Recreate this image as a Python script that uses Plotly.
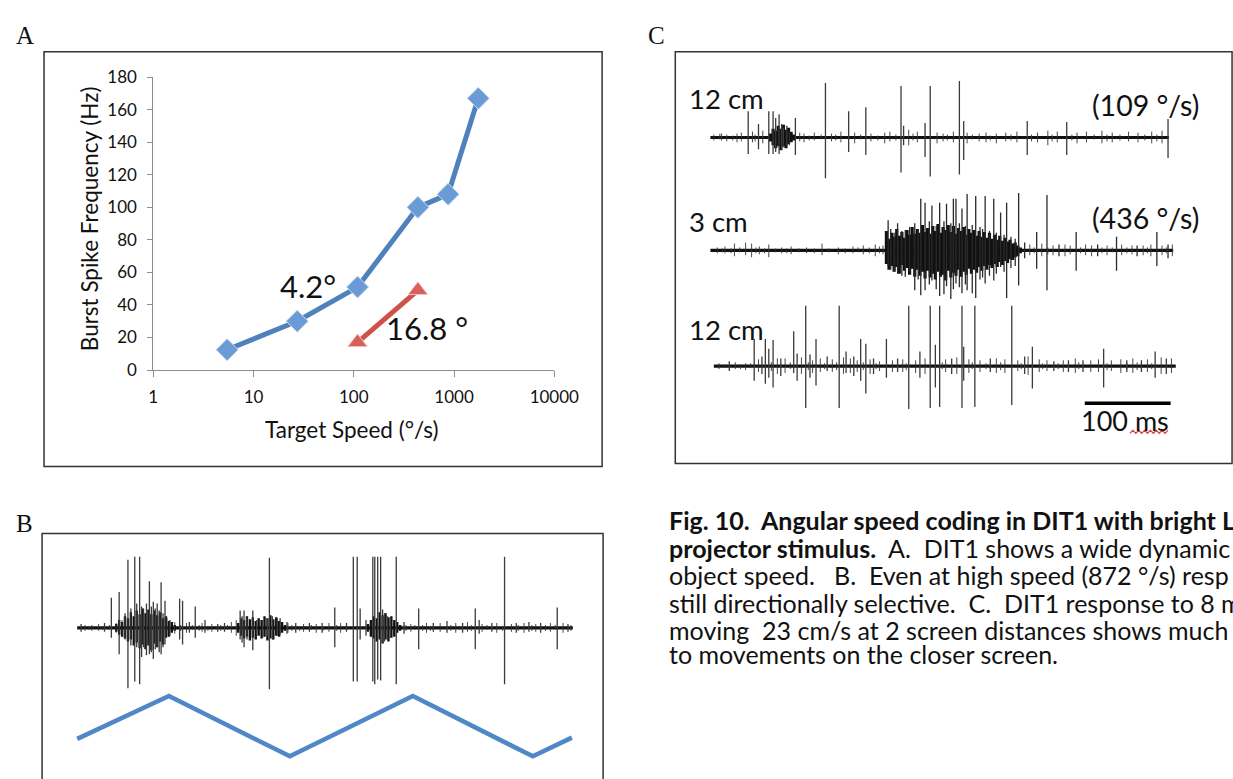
import plotly.graph_objects as go

W, H = 1233, 779
def fx(p): return p / W
def fy(p): return 1 - p / H

# ---------------- Panel A data ----------------
speed_42 = [5.45, 27.25, 109, 436, 872, 1744]
freq_42 = [12.5, 30, 51, 100, 108, 167]
speed_168 = [109, 436]
freq_168 = [17, 49]
x_ticks = [1, 10, 100, 1000, 10000]
x_ticktext = ["1", "10", "100", "1000", "10000"]
y_ticks = [0, 20, 40, 60, 80, 100, 120, 140, 160, 180]

# ---------------- Panel C data (t in ms, up / down amplitude) ----------------
c1_span = [0, 534]
c1_spikes = [[44,27,17],[56,14,12],[68,27,17],[73,27,17],[76,20,15],[80,24,17],[83,14,12],[85,10,10],[89,12,9],
             [99,20,18],[134,56,42],[161,27,15],[181,31,18],[222,53,36],[225,12,8],[250,15,20],[256,53,40],
             [290,58,38],[295,17,23],[369,17,18],[415,16,18],[533,19,21]]
c1_noise = [[4,3,3],[11,4,2],[13,4,3],[19,3,4],[26,2,3],[31,4,5],[36,5,4],[49,6,5],[52,3,4],[61,7,6],[92,6,8],
            [104,5,4],[109,4,5],[115,2,3],[121,5,3],[129,3,2],[141,4,4],[146,3,3],[152,6,5],[168,5,6],[175,3,2],
            [187,4,4],[195,2,3],[203,5,6],[209,6,4],[216,3,3],[231,8,8],[236,4,3],[241,6,5],[264,5,6],[271,4,4],
            [276,3,3],[283,6,5],[299,5,6],[305,3,2],[313,4,4],[321,5,5],[326,2,3],[333,4,6],[344,5,4],[350,3,3],
            [357,6,5],[374,3,4],[381,5,5],[393,7,8],[398,3,4],[404,6,5],[421,3,3],[427,5,6],[438,6,5],[447,3,2],
            [456,7,6],[462,3,4],[468,5,5],[477,3,3],[487,6,4],[498,5,5],[506,3,3],[514,6,6],[520,3,4],[526,7,6]]
c1_burst_t = [70, 73, 76, 79, 82, 85, 88, 91, 94, 97]
c1_burst_up = [4, 9, 7, 12, 9, 13, 8, 10, 6, 3]
c1_burst_dn = [4, 8, 11, 9, 13, 9, 11, 7, 5, 3]

c2_span = [0, 539]
c2_spikes = [[207,31,16],[210,22,20],[214,18,22],[218,28,24],[223,20,26],[227,21,27],[232,24,22],[238,28,41],
             [242,22,30],[245,53,46],[250,49,41],[255,30,35],[258,46,31],[263,25,40],[267,49,47],[272,30,45],
             [275,48,37],[280,28,50],[283,53,40],[286,53,34],[290,28,38],[293,43,44],[297,25,35],[299,58,41],
             [305,26,44],[309,56,49],[314,24,30],[317,22,28],[320,56,34],[325,20,26],[330,53,31],[333,18,24],
             [338,39,17],[342,16,22],[345,49,49],[350,14,18],[355,12,16],[359,59,36],[366,8,8],[380,19,19],
             [392,57,41],[406,6,6],[426,19,21],[451,6,6],[473,14,21],[497,5,6],[520,19,16],[533,6,8]]
c2_noise = [[8,3,3],[14,2,2],[17,4,3],[24,2,3],[28,7,6],[34,3,2],[41,8,5],[48,7,7],[53,3,3],[57,4,4],[63,2,3],
            [68,6,7],[76,2,2],[83,3,3],[89,2,3],[94,4,4],[103,2,2],[112,3,3],[121,2,3],[130,7,5],[138,2,2],
            [149,3,4],[157,2,3],[166,4,3],[172,3,2],[178,5,4],[185,3,3],[192,6,6],[197,4,3],[201,5,4],[372,6,5],
            [377,3,3],[386,7,6],[393,3,4],[399,5,5],[413,6,6],[419,5,4],[431,3,3],[437,6,5],[444,5,6],[456,3,3],
            [462,5,5],[468,3,2],[479,6,5],[485,3,3],[491,5,4],[504,5,5],[509,3,3],[513,6,6],[526,5,5],[531,3,3],
            [538,6,6]]
c2_burst_t = [205,208,211,214,217,220,223,226,229,232,235,238,241,244,247,250,253,256,259,262,265,268,271,274,
              277,280,283,286,289,292,295,298,301,304,307,310,313,316,319,322,325,328,331,334,337,340,343,346,
              349,352,355,358,361]
c2_burst_up = [20,12,18,14,22,15,19,13,21,16,24,17,22,18,26,19,23,17,25,20,27,18,24,21,
               26,19,25,17,23,20,24,16,22,18,21,15,20,14,19,13,18,12,16,11,15,10,13,9,
               11,7,8,5,3]
c2_burst_dn = [14,20,16,22,17,24,15,21,18,25,19,27,20,26,22,29,21,28,24,30,22,27,25,31,
               21,28,23,26,20,27,22,25,19,24,20,23,17,21,16,20,15,18,14,17,12,15,11,13,
               9,10,7,6,3]

c3_span = [4, 542]
c3_spikes = [[22,5,5],[51,28,15],[60,10,8],[64,28,18],[68,18,12],[73,27,22],[82,8,10],[97,36,7],[101,13,15],
             [111,62,43],[116,12,12],[123,28,20],[136,10,5],[150,62,43],[158,15,7],[167,10,10],[175,28,15],
             [181,23,28],[190,8,8],[205,28,12],[218,8,6],[231,62,44],[244,15,12],[256,62,43],[262,22,22],
             [267,62,42],[281,8,8],[293,62,43],[295,20,15],[308,62,42],[326,8,6],[351,62,40],[366,10,8],
             [375,20,23],[400,5,5],[417,6,6],[434,6,6],[458,18,22],[485,6,6],[502,6,6],[518,15,12],[531,8,8]]
c3_noise = [[10,3,3],[17,2,2],[29,4,3],[35,2,3],[41,3,4],[47,3,2],[56,7,6],[71,4,5],[78,8,8],[87,8,7],[93,4,3],
            [106,9,8],[114,4,4],[119,6,7],[128,8,6],[133,3,3],[142,7,6],[147,4,4],[155,9,8],[163,8,7],[171,6,6],
            [178,4,4],[186,7,8],[193,3,3],[197,5,5],[212,6,6],[224,7,6],[228,3,4],[239,6,7],[250,8,8],[270,4,3],
            [274,7,6],[287,9,8],[301,7,7],[305,4,3],[314,6,6],[321,3,3],[333,8,7],[338,4,4],[343,7,7],[358,6,5],
            [362,3,3],[370,10,9],[383,7,6],[387,3,3],[392,6,5],[405,3,3],[411,6,6],[425,8,7],[429,4,3],[443,6,6],
            [452,7,6],[462,3,4],[467,6,5],[478,7,7],[485,3,3],[492,8,7],[497,4,4],[509,7,6],[514,3,3],[525,9,8],
            [537,8,7]]
scale_bar_start = 436
scale_bar_ms = 100

# ---------------- Panel B data ----------------
b_span = [0, 508]
b_spikes = [[4,4,4],[28,5,4],[35,31,10],[43,37,27],[49,15,12],[52,70,62],[55,20,18],[59,73,55],[61,25,20],
            [64,73,58],[66,22,30],[68,20,20],[71,25,28],[74,48,27],[76,22,25],[78,27,32],[80,20,22],[82,25,20],
            [84,18,25],[86,47,27],[88,15,20],[90,28,17],[95,8,8],[105,30,12],[108,28,17],[115,6,5],[121,22,10],
            [131,8,5],[144,4,4],[151,5,4],[167,18,12],[169,12,15],[171,18,20],[174,10,12],[180,18,23],[184,8,8],
            [190,8,10],[195,10,8],[197,72,63],[200,12,12],[205,10,8],[208,10,7],[215,6,6],[224,5,5],[238,5,4],
            [251,5,5],[264,21,20],[276,5,4],[283,73,55],[287,73,55],[290,20,12],[296,8,8],[303,73,55],[305,73,58],
            [308,73,53],[311,73,54],[313,19,15],[315,15,14],[318,12,12],[321,10,10],[327,73,58],[335,6,6],
            [350,20,22],[365,5,4],[379,7,5],[395,5,5],[408,20,22],[412,8,6],[425,5,4],[438,73,58],[450,5,5],
            [463,6,4],[475,5,5],[492,21,22],[503,4,4]]
b_noise = [[8,3,3],[12,2,2],[15,3,3],[22,4,3],[26,2,2],[33,3,2],[40,5,5],[46,8,8],[92,10,8],[100,6,6],[106,3,3],
           [112,5,5],[118,3,2],[125,3,3],[128,5,4],[134,2,3],[138,4,4],[147,3,3],[154,3,2],[158,6,5],[163,8,8],
           [216,5,5],[220,3,3],[228,2,3],[232,4,4],[240,3,2],[245,4,5],[252,2,3],[258,5,4],[266,3,3],[270,5,5],
           [337,3,3],[342,4,4],[346,3,2],[354,3,3],[358,5,5],[362,2,3],[372,5,4],[383,3,3],[388,5,5],[392,2,2],
           [400,6,4],[404,3,3],[415,4,4],[420,3,2],[430,5,5],[436,2,3],[445,4,4],[452,3,3],[458,5,5],[466,3,3],
           [470,4,4],[480,3,3],[485,5,4],[490,3,2],[498,5,5],[506,3,3]]
b_burst1_t = [40,43,46,49,52,55,58,61,64,67,70,73,76,79,82,85,88,91,94,97,100]
b_burst1_up = [4,8,6,12,10,16,12,18,14,20,15,19,14,18,13,16,10,12,7,6,3]
b_burst1_dn = [4,7,9,11,14,12,18,15,21,17,22,18,23,16,20,14,17,10,9,5,3]
b_burst2_t = [165,168,171,174,177,180,183,186,189,192,195,198,201,204,207,210,213]
b_burst2_up = [5,10,8,12,9,11,7,10,8,12,10,13,9,11,7,6,3]
b_burst2_dn = [5,8,11,9,13,10,12,8,11,9,13,11,12,8,9,5,3]
b_burst3_t = [298,301,304,307,310,313,316,319,322,325,328,331]
b_burst3_up = [4,8,12,10,16,13,15,11,12,8,6,3]
b_burst3_dn = [4,9,11,14,12,16,12,14,10,9,5,3]
stim_t = [0, 94, 218, 344, 467, 507]
stim_pos = [0.29, 1, 0, 1, 0, 0.31]

# ---------------- helpers ----------------
def spike_xy(spikes, base):
    xs, ys = [], []
    for t, u, d in spikes:
        xs += [t, t, None]
        ys += [base + u, base - d, None]
    return xs, ys

def envelope(ts, ups, dns, base):
    xs, ys = [], []
    for t, u, d in zip(ts, ups, dns):
        xs += [t, t, None]
        ys += [base + u, base - d, None]
    return xs, ys

fig = go.Figure()
FONT = "Lato, 'Open Sans', sans-serif"

# Panel A
blue = "#4F81BD"
red = "#D0504A"
fig.add_trace(go.Scatter(x=speed_42, y=freq_42, mode="lines+markers", xaxis="x", yaxis="y",
                         line=dict(color=blue, width=5),
                         marker=dict(symbol="diamond", size=17, color="#6A9BD6",
                                     line=dict(color="#C9DBF0", width=1))))
fig.add_trace(go.Scatter(x=speed_168, y=freq_168, mode="lines+markers", xaxis="x", yaxis="y",
                         line=dict(color=red, width=5),
                         marker=dict(symbol="triangle-up", size=17, color="#D9605A",
                                     line=dict(color="#F0C8C6", width=1))))

# Panel C traces
C_OFF = [335, 219, 100]
spans = [c1_span, c2_span, c3_span]
for off, span in zip(C_OFF, spans):
    fig.add_trace(go.Scatter(x=span, y=[off, off], mode="lines", xaxis="x2", yaxis="y2",
                             line=dict(color="#111", width=3.2)))
for ts, us, ds, off in [(c1_burst_t, c1_burst_up, c1_burst_dn, C_OFF[0]),
                        (c2_burst_t, c2_burst_up, c2_burst_dn, C_OFF[1])]:
    ex, ey = envelope(ts, us, ds, off)
    fig.add_trace(go.Scatter(x=ex, y=ey, mode="lines", xaxis="x2", yaxis="y2",
                             line=dict(color="#111", width=3.2)))
for off, lst, w, col in [(C_OFF[0], c1_noise, 0.9, "#333"), (C_OFF[1], c2_noise, 0.9, "#333"),
                         (C_OFF[2], c3_noise, 0.9, "#333"),
                         (C_OFF[0], c1_spikes, 1.3, "#3a3a3a"), (C_OFF[1], c2_spikes, 1.3, "#2a2a2a"),
                         (C_OFF[2], c3_spikes, 1.3, "#3a3a3a")]:
    sx, sy = spike_xy(lst, off)
    fig.add_trace(go.Scatter(x=sx, y=sy, mode="lines", xaxis="x2", yaxis="y2",
                             line=dict(color=col, width=w)))
fig.add_trace(go.Scatter(x=[scale_bar_start, scale_bar_start + scale_bar_ms], y=[62, 62], mode="lines",
                         xaxis="x2", yaxis="y2", line=dict(color="#000", width=3.5)))

# Panel B
B_OFF = 145
fig.add_trace(go.Scatter(x=b_span, y=[B_OFF, B_OFF], mode="lines", xaxis="x3", yaxis="y3",
                         line=dict(color="#111", width=3.2)))
for ts, us, ds in [(b_burst1_t, b_burst1_up, b_burst1_dn), (b_burst2_t, b_burst2_up, b_burst2_dn),
                   (b_burst3_t, b_burst3_up, b_burst3_dn)]:
    ex, ey = envelope(ts, us, ds, B_OFF)
    fig.add_trace(go.Scatter(x=ex, y=ey, mode="lines", xaxis="x3", yaxis="y3",
                             line=dict(color="#111", width=2.4)))
for lst, w, col in [(b_noise, 0.9, "#333"), (b_spikes, 1.3, "#3a3a3a")]:
    sx, sy = spike_xy(lst, B_OFF)
    fig.add_trace(go.Scatter(x=sx, y=sy, mode="lines", xaxis="x3", yaxis="y3",
                             line=dict(color=col, width=w)))
fig.add_trace(go.Scatter(x=stim_t, y=stim_pos, mode="lines", xaxis="x4", yaxis="y4",
                         line=dict(color="#4F87C7", width=4.5)))

axis_hidden = dict(visible=False, showgrid=False, zeroline=False, fixedrange=True)
layout = dict(
    width=W, height=H, margin=dict(l=0, r=0, t=0, b=0),
    paper_bgcolor="white", plot_bgcolor="rgba(0,0,0,0)", showlegend=False,
    font=dict(family=FONT, color="#111"),
    xaxis=dict(type="log", range=[0, 4], domain=[fx(152), fx(563)], anchor="y",
               tickvals=x_ticks, ticktext=x_ticktext, showline=True, linecolor="#8c8c8c", linewidth=1,
               ticks="outside", ticklen=6, tickcolor="#8c8c8c", showgrid=False, zeroline=False,
               tickfont=dict(size=17, family=FONT, color="#111"), ticklabelstandoff=6),
    yaxis=dict(range=[0, 180], domain=[fy(369), fy(68)], anchor="x", tickvals=y_ticks,
               showline=True, linecolor="#8c8c8c", linewidth=1, ticks="outside", ticklen=5,
               tickcolor="#8c8c8c", showgrid=False, zeroline=False,
               tickfont=dict(size=17, family=FONT, color="#111"), ticklabelstandoff=7),
    xaxis2=dict(range=[(687 - 723) / 0.88, (1233 - 723) / 0.88], domain=[fx(687), 1], anchor="y2", **axis_hidden),
    yaxis2=dict(range=[0, 423], domain=[fy(465), fy(42)], anchor="x2", **axis_hidden),
    xaxis3=dict(range=[38 - 74, 613 - 74], domain=[fx(38), fx(613)], anchor="y3", **axis_hidden),
    yaxis3=dict(range=[0, 242], domain=[0, fy(537)], anchor="x3", **axis_hidden),
    xaxis4=dict(range=[38 - 74, 613 - 74], domain=[fx(38), fx(613)], anchor="y4", **axis_hidden),
    yaxis4=dict(range=[-0.1, 1.1], domain=[fy(772.2), fy(697.8)], anchor="x4", **axis_hidden),
)
fig.update_layout(**layout)

box = dict(type="rect", xref="paper", yref="paper", line=dict(color="#333", width=1.5), layer="below")
fig.add_shape(x0=fx(40), x1=fx(612), y0=fy(468), y1=fy(42), **box)
fig.add_shape(x0=fx(687), x1=1.02, y0=fy(465), y1=fy(42), **box)
fig.add_shape(x0=fx(38), x1=fx(613), y0=-0.02, y1=fy(537), **box)

# red wavy underline under "ms"
pts = []
xx = 1153
i = 0
while xx <= 1193:
    pts.append((xx, 434 if i % 2 == 0 else 431))
    xx += 3
    i += 1
path = "M " + " L ".join(f"{fx(a):.5f},{fy(b):.5f}" for a, b in pts)
fig.add_shape(type="path", path=path, xref="paper", yref="paper", line=dict(color="#E0403A", width=1.2))

def ann(text, x, y, size, xanchor="left", family=FONT, angle=0, color="#111"):
    fig.add_annotation(text=text, x=fx(x), y=fy(y), xref="paper", yref="paper", showarrow=False,
                       xanchor=xanchor, yanchor="middle", textangle=angle,
                       font=dict(size=size, family=family, color=color))

SERIF = "'Liberation Serif', 'DejaVu Serif', serif"
ann("A", 9, 25, 25, family=SERIF)
ann("B", 9, 527, 25, family=SERIF)
ann("C", 657, 25, 25, family=SERIF)

ann("Burst Spike Frequency (Hz)", 86, 213, 22.5, xanchor="center", angle=-90)
ann("Target Speed (°/s)", 356, 430, 22.5, xanchor="center")
ann("4.2°", 311, 283, 31, xanchor="center")
ann("16.8 °", 433, 326, 31, xanchor="center")

ann("12 cm", 699, 90, 27.5)
ann("(109 °/s)", 1226, 97, 28.5, xanchor="right")
ann("3 cm", 699, 216, 27.5)
ann("(436 °/s)", 1226, 213, 28.5, xanchor="right")
ann("12 cm", 699, 327, 27.5)
ann("100 ms", 1148, 421, 27, xanchor="center")

NB = "\u00a0"
cap = [
    ("<b>Fig. 10." + NB * 2 + "Angular speed coding in DIT1 with bright L</b>", 523),
    ("<b>projector stimulus.</b>" + NB * 2 + "A." + NB * 2 + "DIT1 shows a wide dynamic", 552),
    ("object speed." + NB * 3 + "B." + NB * 2 + "Even at high speed (872 °/s) resp", 580),
    ("still directionally selective." + NB * 2 + "C." + NB * 2 + "DIT1 response to 8 m", 608),
    ("moving" + NB * 2 + "23 cm/s at 2 screen distances shows much", 636),
    ("to movements on the closer screen.", 661),
]
for t, y in cap:
    ann(t, 679, y, 25)

fig.write_html("out.html")
